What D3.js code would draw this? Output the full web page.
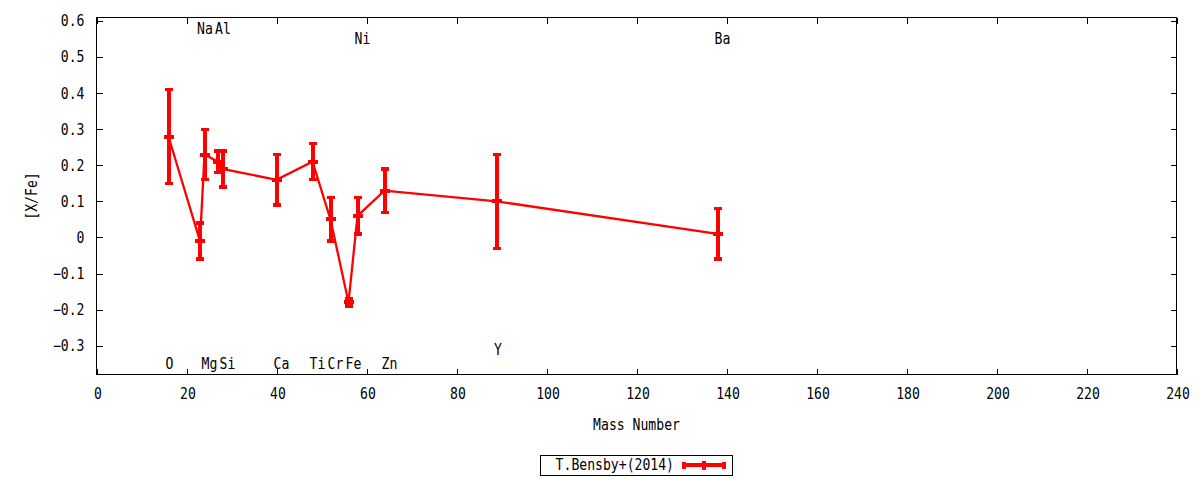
<!DOCTYPE html>
<html>
<head>
<meta charset="utf-8">
<script src="https://cdn.jsdelivr.net/npm/d3@7"></script>
<style>
  body { margin: 0; background: #fff; }
  text { font-family: "DejaVu Sans Mono", monospace; font-size: 15px; fill: #000; }
</style>
</head>
<body>
<svg id="chart" width="1200" height="480"></svg>
<script>
// abundances from T.Bensby+(2014)
var elements = ['O','Na','Mg','Al','Si','Ca','Ti','Cr','Fe','Ni','Zn','Y','Ba'];
var mass     = [16, 23, 24, 27, 28, 40, 48, 52, 56, 58, 64, 89, 138];
var xfe      = [0.28, -0.01, 0.23, 0.21, 0.19, 0.16, 0.21, 0.05, -0.18, 0.06, 0.13, 0.10, 0.01];
var xfeErr   = [0.13, 0.05, 0.07, 0.03, 0.05, 0.07, 0.05, 0.06, 0.01, 0.05, 0.06, 0.13, 0.07];
// where the element names sit, in [X/Fe] units
var labelY   = [-0.35, 0.58, -0.35, 0.58, -0.35, -0.35, -0.35, -0.35, -0.35, 0.55, -0.35, -0.31, 0.55];

var xTicks = [0,20,40,60,80,100,120,140,160,180,200,220,240];
var yTicks = [-0.3,-0.2,-0.1,0,0.1,0.2,0.3,0.4,0.5,0.6];
var seriesName = 'T.Bensby+(2014)';

var SX = 0.875; // narrow the mono font a bit, like the gnuplot png font
var red = '#ff0000';

var pl = 96.5, pr = 1176.5, pt = 17.5, pb = 374.5;

var x = d3.scaleLinear().domain([0, 240]).range([pl, pr]);
var y = d3.scaleLinear().domain([-0.38, 0.61]).range([pb, pt]);

var svg = d3.select('#chart');

function txt(g, px, py, s, anchor){
  return g.append('text')
      .attr('transform', 'translate(' + px + ',' + py + ') scale(' + SX + ',1)')
      .style('text-anchor', anchor || 'start')
      .text(s);
}

function fmtY(v){ return v === 0 ? '0' : d3.format('.1f')(v); }

// ticks on all four sides, pointing inwards
svg.append('g').attr('transform', 'translate(' + pl + ',0)')
    .call(d3.axisRight(y).tickValues(yTicks).tickSize(6).tickFormat(''));
svg.append('g').attr('transform', 'translate(' + pr + ',0)')
    .call(d3.axisLeft(y).tickValues(yTicks).tickSize(6).tickFormat(''));
svg.append('g').attr('transform', 'translate(0,' + pb + ')')
    .call(d3.axisTop(x).tickValues(xTicks).tickSize(6).tickFormat(''));
svg.append('g').attr('transform', 'translate(0,' + pt + ')')
    .call(d3.axisBottom(x).tickValues(xTicks).tickSize(6).tickFormat(''));
svg.selectAll('.domain').remove();
svg.selectAll('.tick line').attr('stroke', '#000').attr('shape-rendering', 'crispEdges');

// tick labels
var lab = svg.append('g');
yTicks.forEach(function(v){ txt(lab, 84.5, y(v) + 5.3, fmtY(v), 'end'); });
xTicks.forEach(function(v){ txt(lab, x(v) + 1.5, 399, String(v), 'middle'); });

// frame
svg.append('rect')
    .attr('x', pl).attr('y', pt)
    .attr('width', pr - pl).attr('height', pb - pt)
    .attr('fill', 'none').attr('stroke', '#000')
    .attr('shape-rendering', 'crispEdges');

// axis titles
txt(svg, (pl + pr) / 2, 429.5, 'Mass Number', 'middle');
svg.append('text')
    .attr('transform', 'translate(37,' + ((pt + pb) / 2) + ') rotate(-90) scale(' + SX + ',1)')
    .style('text-anchor', 'middle')
    .text('[X/Fe]');

// element names
elements.forEach(function(el, i){
  txt(svg, x(mass[i]) - 3, y(labelY[i]) + 5.3, el, 'start');
});

// connecting line
var pts = mass.map(function(m, i){ return [m, xfe[i]]; });
svg.append('path')
    .datum(pts)
    .attr('fill', 'none')
    .attr('stroke', red)
    .attr('stroke-width', 2.3)
    .attr('d', d3.line().x(function(d){ return x(d[0]); }).y(function(d){ return y(d[1]); }));

// error bars with a + at the value
var bars = svg.append('g').attr('stroke', red).attr('shape-rendering', 'crispEdges');
mass.forEach(function(m, i){
  var cx = x(m), lo = y(xfe[i] - xfeErr[i]), hi = y(xfe[i] + xfeErr[i]), c = y(xfe[i]);
  bars.append('line').attr('x1', cx).attr('x2', cx).attr('y1', lo).attr('y2', hi).attr('stroke-width', 4);
  bars.append('line').attr('x1', cx - 4).attr('x2', cx + 4).attr('y1', lo).attr('y2', lo).attr('stroke-width', 3.3);
  bars.append('line').attr('x1', cx - 4).attr('x2', cx + 4).attr('y1', hi).attr('y2', hi).attr('stroke-width', 3.3);
  bars.append('line').attr('x1', cx - 5).attr('x2', cx + 5).attr('y1', c).attr('y2', c).attr('stroke-width', 4);
  bars.append('line').attr('x1', cx).attr('x2', cx).attr('y1', c - 4.5).attr('y2', c + 4.5).attr('stroke-width', 4);
});

// legend
var leg = svg.append('g');
leg.append('rect')
    .attr('x', 540.5).attr('y', 455.5).attr('width', 192).attr('height', 20)
    .attr('fill', 'none').attr('stroke', '#000')
    .attr('shape-rendering', 'crispEdges');
txt(leg, 674, 469.5, seriesName, 'end');
var ly = 465;
var lsym = leg.append('g').attr('stroke', red).attr('shape-rendering', 'crispEdges');
lsym.append('line').attr('x1', 683).attr('x2', 725).attr('y1', ly).attr('y2', ly).attr('stroke-width', 4);
[684, 724].forEach(function(lx){
  lsym.append('line').attr('x1', lx).attr('x2', lx).attr('y1', ly - 3.5).attr('y2', ly + 3.5).attr('stroke-width', 3.5);
});
lsym.append('line').attr('x1', 704).attr('x2', 704).attr('y1', ly - 4.5).attr('y2', ly + 4.5).attr('stroke-width', 3.5);
</script>
</body>
</html>
